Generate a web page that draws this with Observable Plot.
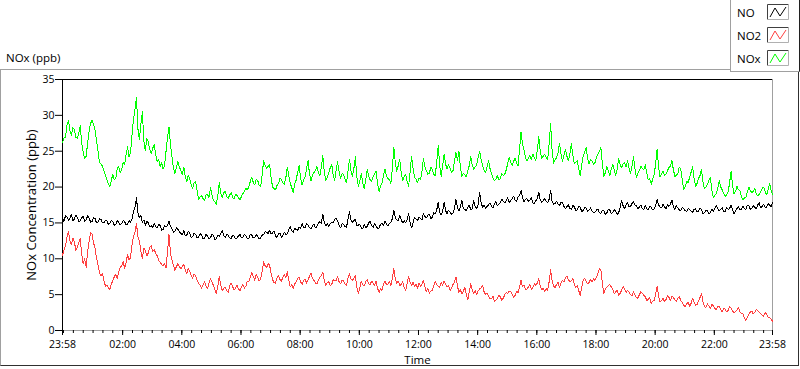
<!DOCTYPE html>
<html><head><meta charset="utf-8">
<script src="https://cdn.jsdelivr.net/npm/d3@7"></script>
<script src="https://cdn.jsdelivr.net/npm/@observablehq/plot@0.6"></script>
<style>
html,body{margin:0;padding:0;background:#fff;}
#wrap{position:relative;width:800px;height:369px;overflow:hidden;font-family:"Open Sans",sans-serif;font-size:11.5px;color:#000;}
#frame{position:absolute;left:0;top:69px;width:797px;height:295px;border-top:1px solid #a0a0a0;border-left:1px solid #a0a0a0;border-right:1px solid #303030;border-bottom:1px solid #303030;}
#chart{position:absolute;left:0;top:0;}
#title{position:absolute;left:6px;top:50px;line-height:16px;}
#legend{position:absolute;left:730px;top:0;width:68px;height:71px;background:#fff;border-left:1px solid #a0a0a0;border-bottom:1px solid #a0a0a0;border-right:1px solid #202020;}
.item{position:absolute;left:6px;height:16px;line-height:16px;}
.sw{position:absolute;left:36px;}
</style></head>
<body>
<div id="wrap">
  <div id="frame"></div>
  <div id="chart"></div>
  <div id="title">NOx (ppb)</div>
  <div id="legend"></div>
</div>
<script>
// ---- data (3-minute samples from 23:58 to 23:58 next day, one row per hour) ----
const seriesNames = ["NO", "NO2", "NOx"];
const seriesColors = ["#000000", "#ff4040", "#00ff00"];
const yTicks = [0, 5, 10, 15, 20, 25, 30, 35];
const tickHours = [2, 4, 6, 8, 10, 12, 14, 16, 18, 20, 22];
const stepMinutes = 3;

const NO = [
15.6,15.2,16.0,15.9,15.4,15.6,16.2,15.3,15.5,16.1,15.8,15.2,15.3,15.7,15.9,15.2,15.4,16.0,15.7,15.1,
15.2,15.7,15.6,15.0,15.1,15.6,15.5,15.0,15.0,15.4,15.3,14.8,14.9,15.4,15.2,14.7,14.8,15.3,15.1,14.7,
14.9,15.3,15.2,14.7,14.8,15.3,15.1,15.6,16.6,17.2,18.5,16.4,15.7,16.0,15.1,15.4,14.7,15.2,15.0,14.5,
14.6,14.4,14.9,14.5,14.3,14.8,14.6,14.0,14.1,14.6,14.4,14.7,15.3,14.5,14.2,13.7,13.8,14.3,14.1,13.8,
13.5,13.4,13.9,13.2,13.3,13.8,13.6,13.0,13.1,13.6,13.4,12.9,13.0,13.5,13.3,12.8,12.9,13.4,13.2,12.8,
12.9,13.4,13.3,12.7,12.8,13.3,13.1,13.5,13.9,13.2,13.0,13.4,13.3,12.9,12.8,13.3,13.2,12.8,12.9,13.2,
13.4,12.9,13.0,13.4,13.2,12.8,12.9,13.4,13.3,12.9,13.0,13.4,13.1,12.8,12.9,13.3,13.4,13.8,13.7,13.5,
14.0,13.5,13.6,13.9,13.2,13.0,13.5,13.6,13.0,13.3,13.7,13.4,13.5,14.1,14.5,13.9,13.7,14.2,14.1,14.0,
14.4,14.2,14.9,14.4,14.3,14.9,14.7,14.3,14.2,14.6,14.8,14.3,14.5,15.0,15.2,14.9,16.2,15.1,14.6,14.9,
14.5,14.9,15.1,15.0,15.5,15.6,15.3,14.7,14.3,14.9,14.8,14.5,14.4,15.5,16.6,15.4,15.1,15.3,15.5,14.6,
14.7,14.8,14.3,14.2,14.8,14.3,14.5,15.0,15.2,14.6,14.4,14.9,14.6,14.2,14.3,14.8,14.9,14.6,15.3,14.8,
14.6,14.9,15.1,15.6,16.8,15.7,15.4,15.3,16.0,15.4,15.0,15.3,15.0,15.5,16.3,15.1,14.3,15.0,15.8,15.5,
15.3,15.8,15.6,15.4,16.3,15.9,15.7,16.1,16.2,15.6,15.8,16.4,16.3,16.8,17.9,16.5,16.1,16.6,17.9,16.7,
16.3,16.8,16.5,16.2,16.4,17.0,18.3,17.1,16.7,17.2,18.1,17.0,16.9,16.7,17.2,17.5,16.8,17.0,18.1,17.3,
17.0,17.6,19.3,17.8,17.2,17.5,17.0,17.3,17.5,17.8,17.3,17.1,17.7,18.0,17.4,17.6,17.8,18.3,18.0,17.8,
18.1,18.5,17.9,18.1,18.4,18.7,18.2,18.0,18.6,18.9,19.5,18.5,18.0,18.3,18.4,18.0,18.2,18.5,17.8,17.7,
18.1,18.4,19.3,18.2,17.9,18.1,18.4,18.0,17.8,18.3,19.5,18.0,17.6,17.7,18.0,17.6,17.4,17.9,17.8,17.3,
17.0,17.3,17.5,17.0,16.9,17.4,17.3,16.7,16.8,17.3,17.2,16.6,16.7,17.2,17.1,16.6,16.8,17.1,16.7,16.4,
16.5,16.8,16.9,16.4,16.3,16.8,16.7,16.2,16.4,16.9,16.8,16.3,16.5,16.9,16.6,16.2,16.4,17.2,18.1,17.4,
17.0,17.5,17.8,17.2,17.3,17.7,18.0,17.5,17.4,17.0,17.2,17.5,17.0,16.9,17.4,17.0,16.8,17.3,17.2,16.8,
17.0,17.4,18.3,17.5,17.2,17.1,17.6,17.2,17.0,17.5,17.3,17.6,18.2,17.3,16.9,17.4,17.1,16.8,16.7,17.2,
17.0,16.7,16.6,17.0,16.9,16.6,16.5,16.9,17.0,16.5,16.6,17.1,16.8,16.3,16.4,16.8,16.7,16.3,16.4,16.9,
16.6,17.0,17.5,17.0,16.7,16.9,17.1,16.6,16.6,17.2,16.9,17.0,17.5,16.8,16.3,16.7,17.0,17.3,16.8,16.9,
17.3,17.0,16.9,17.5,17.4,16.9,17.0,17.4,17.2,17.0,17.5,17.8,17.1,17.3,17.6,17.2,17.2,17.7,17.5,17.3,
17.8];

const NO2 = [
10.5,11.2,11.8,13.0,13.8,12.5,12.0,12.9,12.4,11.2,11.6,12.2,12.8,10.6,9.3,10.0,8.8,11.0,12.4,13.7,
13.4,12.2,11.5,10.1,9.2,8.0,7.6,7.9,7.0,6.2,6.3,6.0,5.7,6.5,6.9,7.5,7.8,7.2,8.2,8.8,
9.0,9.6,8.7,9.5,10.6,9.8,10.2,11.9,13.2,13.7,14.9,13.1,12.5,11.0,10.1,11.5,11.2,10.4,10.8,11.6,
11.8,11.0,11.3,10.8,10.4,9.8,9.5,9.2,9.0,9.4,8.7,11.0,13.4,10.8,9.8,9.1,8.4,8.9,9.3,8.9,
8.6,8.9,9.2,8.4,7.9,8.6,8.3,7.7,7.3,7.9,7.6,7.0,6.6,6.3,5.9,6.4,6.8,6.2,5.8,6.6,
7.2,6.8,6.3,5.7,5.1,6.2,7.6,6.3,5.5,5.9,6.0,5.6,5.3,6.2,6.6,6.1,5.7,5.9,6.3,5.8,
5.5,6.1,6.4,5.9,6.2,6.9,6.8,7.5,8.1,7.5,7.0,7.8,7.4,6.9,7.2,8.3,9.6,9.0,8.8,9.3,
9.1,8.0,7.1,6.7,6.6,7.3,7.6,7.1,6.9,7.4,7.8,7.4,8.2,7.0,6.1,6.4,5.8,6.5,6.8,7.3,
7.4,6.8,6.4,7.0,7.2,6.6,7.0,7.6,8.0,7.3,7.0,6.6,6.5,7.1,7.4,7.7,8.1,6.9,6.3,6.7,
6.8,6.2,6.4,7.1,6.9,7.0,7.5,6.8,6.5,7.0,6.9,6.5,6.3,7.3,7.9,7.2,7.0,7.3,7.6,6.0,
5.2,6.0,6.9,6.4,6.2,6.8,7.1,6.5,6.4,6.9,6.6,6.3,6.9,5.9,5.3,5.9,5.6,6.4,6.9,6.4,
6.5,6.9,6.2,7.2,8.6,7.1,6.6,6.9,6.3,6.4,6.8,6.0,5.6,6.6,7.5,6.7,6.3,6.7,6.1,6.4,
5.9,6.6,6.2,6.4,7.0,6.1,5.4,5.9,5.2,5.5,5.6,6.3,6.9,6.4,6.2,6.0,6.7,6.3,6.9,6.5,
6.1,6.3,5.6,5.9,6.4,6.8,7.5,6.2,5.3,5.7,5.1,5.5,6.0,5.1,4.3,5.4,6.5,5.6,5.2,5.6,
5.0,5.5,5.8,5.9,6.3,5.4,5.0,5.2,4.8,4.4,4.4,4.8,4.0,4.2,4.5,4.9,4.7,4.2,4.5,5.0,
5.3,5.1,5.5,5.5,5.0,4.6,4.9,5.5,5.3,6.0,7.0,6.1,6.3,5.7,5.8,6.1,6.4,5.7,6.0,6.5,
6.3,6.6,7.2,6.2,5.7,5.9,5.4,5.9,5.6,6.8,8.5,6.9,6.2,6.0,6.4,6.7,6.0,6.6,7.0,6.8,
7.3,7.6,7.1,6.8,6.9,7.2,6.5,6.0,6.3,5.6,4.8,6.0,7.0,7.3,6.9,6.5,6.7,7.1,6.8,7.2,
7.0,7.4,8.0,8.6,8.4,6.5,5.2,5.8,6.0,6.3,6.4,6.1,5.8,5.1,5.4,5.6,4.9,5.2,5.6,6.1,
5.8,5.3,5.6,5.4,5.0,4.8,5.4,5.0,4.6,4.5,5.0,5.4,5.2,4.9,4.7,4.2,4.3,4.6,3.8,4.1,
4.2,5.0,6.2,4.8,4.0,4.2,4.5,4.0,4.3,4.9,4.6,4.2,4.8,4.6,4.3,4.0,4.5,4.7,4.2,3.9,
3.5,3.3,3.7,3.9,3.4,3.8,4.5,3.9,3.5,3.6,4.1,4.6,5.2,4.0,3.3,3.2,3.7,3.4,3.1,3.6,
3.5,3.1,2.9,3.4,3.3,2.9,2.6,3.1,3.0,2.6,2.8,3.3,3.1,2.7,2.5,2.6,2.9,3.2,2.6,2.4,
2.3,1.8,1.4,1.9,2.2,2.6,2.7,2.3,2.5,2.9,2.8,2.5,2.4,2.1,2.0,2.5,2.3,1.9,1.8,1.6,
1.3];

const NOx = [
26.2,26.8,27.0,28.6,29.3,27.9,27.2,28.3,28.0,26.9,26.8,27.5,28.6,26.1,24.8,24.0,24.3,26.2,27.8,28.9,
29.3,28.7,27.9,26.6,25.0,23.4,23.2,22.9,22.3,21.7,21.0,20.4,20.1,20.9,21.8,21.0,21.2,22.6,22.9,22.0,
22.4,23.4,23.1,24.5,25.6,24.2,24.8,27.3,29.5,30.8,32.5,28.1,26.6,28.8,30.5,26.4,25.1,26.8,26.3,25.2,
24.7,25.4,26.0,24.5,23.6,23.8,22.9,23.4,22.5,23.0,25.0,26.9,28.4,26.0,24.2,22.6,21.9,22.8,23.6,22.8,
22.3,21.7,22.8,21.5,20.7,21.6,21.2,20.3,19.8,20.6,20.8,19.5,18.2,18.6,18.8,18.4,18.1,18.9,19.0,18.5,
19.9,19.0,18.2,17.9,17.6,18.8,20.6,19.1,18.5,19.2,19.4,18.7,18.4,18.9,19.2,18.6,18.3,19.0,18.8,18.5,
18.2,18.7,19.1,19.4,19.8,19.6,20.1,20.8,21.4,20.6,20.3,21.1,20.9,20.2,20.1,21.8,23.7,23.0,22.6,22.9,
23.2,21.4,20.0,19.8,19.6,20.2,20.5,21.2,21.1,20.6,20.4,21.3,22.8,21.5,20.5,19.9,19.2,20.4,21.0,22.1,
23.0,21.2,20.3,21.0,21.4,22.6,23.7,21.8,20.9,21.7,22.0,22.3,22.9,22.0,21.6,22.8,24.4,22.0,20.9,21.3,
22.0,22.7,23.2,21.6,20.9,22.4,23.5,22.1,21.2,21.9,21.8,21.1,20.6,22.2,23.9,22.3,21.5,22.6,24.2,21.4,
20.1,20.8,21.9,20.6,19.8,21.0,22.5,21.5,21.0,20.8,21.4,21.8,22.2,20.5,19.4,20.2,20.6,21.6,22.5,21.6,
21.2,21.0,20.5,22.6,25.6,23.4,22.2,23.0,23.9,22.0,20.9,21.5,21.8,20.8,20.1,22.1,24.3,22.6,21.4,21.1,
20.6,21.3,21.0,22.2,24.0,22.8,22.3,21.8,21.9,22.8,22.4,21.8,21.6,23.5,25.8,23.0,21.5,23.0,24.6,23.2,
22.5,23.1,22.6,22.0,22.3,23.6,24.8,23.7,25.0,22.8,21.5,21.9,21.7,21.4,22.2,23.0,24.2,23.1,22.5,22.8,
23.1,24.1,25.0,23.8,23.0,22.4,22.0,22.8,23.7,22.6,21.9,21.3,20.9,21.1,21.6,21.0,21.2,21.9,21.6,21.8,
22.4,23.3,24.2,23.4,23.0,23.6,24.0,23.3,22.9,25.3,27.7,26.0,25.2,24.1,23.6,24.0,24.4,23.8,24.6,24.0,
23.7,25.2,27.0,25.0,24.0,24.3,24.6,24.1,23.8,26.0,28.8,25.1,23.3,23.8,24.1,24.8,26.1,24.6,23.6,24.4,
25.2,24.3,23.7,24.6,26.1,24.5,23.3,23.5,23.7,22.6,21.6,23.0,24.4,24.8,25.5,24.0,23.2,23.8,23.6,23.2,
23.4,24.1,24.6,25.0,25.5,23.2,21.5,22.0,22.9,22.2,21.6,22.5,23.2,22.4,21.6,22.5,24.0,23.1,22.7,23.2,
23.4,22.8,23.7,22.6,21.9,22.9,24.2,22.6,21.4,21.9,22.3,22.9,22.6,22.4,23.1,22.0,21.0,21.2,20.4,21.1,
21.8,23.2,25.3,22.8,21.4,21.9,22.2,21.6,21.8,22.3,22.7,22.9,23.7,22.4,21.5,21.6,21.9,22.8,22.5,21.0,
19.7,20.1,20.8,20.6,21.4,22.1,22.8,21.2,20.1,20.5,21.2,21.6,22.5,20.7,19.8,20.0,20.4,20.9,21.4,19.6,
18.5,18.9,19.1,19.9,20.9,20.0,19.6,19.1,18.7,18.9,19.3,20.6,22.2,20.3,19.0,19.4,20.1,19.6,19.5,18.7,
18.2,18.5,18.6,19.3,20.0,19.5,19.2,19.4,19.8,19.1,18.8,19.0,19.4,19.8,20.0,19.4,18.9,19.6,20.5,19.6,
19.0];

// ---- build ----
const start = new Date(Date.UTC(2020, 0, 1, 23, 58));
const end = new Date(start.getTime() + 24 * 3600 * 1000);
const timeAt = i => new Date(start.getTime() + i * stepMinutes * 60000);
const seriesValues = [NO, NO2, NOx];
const rows = [];
seriesNames.forEach((name, s) => seriesValues[s].forEach((v, i) => rows.push({series: name, time: timeAt(i), value: v})));

const majorTicks = [start, ...tickHours.map(h => new Date(Date.UTC(2020, 0, 2, h, 0))), end];
const minorTicks = d3.utcMinute.every(20).range(start, end);
const fmt = d3.utcFormat("%H:%M");

const chart = Plot.plot({
  width: 800, height: 369,
  marginLeft: 62, marginRight: 28, marginTop: 79, marginBottom: 39,
  style: {fontFamily: '"Open Sans", sans-serif', fontSize: "11.5px", color: "#000", background: "transparent"},
  x: {type: "utc", domain: [start, end], label: null},
  y: {domain: [0, 35], label: null},
  color: {domain: seriesNames, range: seriesColors},
  marks: [
    Plot.ruleY([0], {stroke: "#a0a0a0"}),
    Plot.ruleX([end], {stroke: "#a0a0a0"}),
    Plot.ruleY([35], {stroke: "#000"}),
    Plot.ruleX([start], {stroke: "#000"}),
    Plot.axisY({ticks: yTicks, tickSize: 7, tickPadding: 1, label: null, fontSize: 10.5}),
    Plot.axisX({ticks: minorTicks, tickSize: 3, tickFormat: () => "", label: null}),
    Plot.axisX({ticks: majorTicks, tickSize: 5, tickPadding: 5, tickFormat: fmt, label: null, fontSize: 10.5}),
    Plot.line(rows, {x: "time", y: "value", z: "series", stroke: "series", strokeWidth: 1, shapeRendering: "crispEdges"}),
    Plot.text(["NOx Concentration (ppb)"], {frameAnchor: "left", rotate: -90, dx: -31, textAnchor: "middle", lineAnchor: "middle", fill: "#000", fontSize: 13}),
    Plot.text(["Time"], {frameAnchor: "bottom", dy: 30, textAnchor: "middle", lineAnchor: "middle", fill: "#000"})
  ]
});
document.getElementById("chart").appendChild(chart);

// legend
const legend = document.getElementById("legend");
seriesNames.forEach((name, i) => {
  const top = 5 + i * 23;
  const item = document.createElement("div");
  item.className = "item";
  item.style.top = top + "px";
  item.textContent = name;
  legend.appendChild(item);
  const ns = "http://www.w3.org/2000/svg";
  const sw = document.createElementNS(ns, "svg");
  sw.setAttribute("class", "sw");
  sw.setAttribute("width", 22); sw.setAttribute("height", 16);
  sw.style.top = (top - 1) + "px";
  sw.innerHTML = `<path d="M0.5,15.5V0.5H21.5" fill="none" stroke="#404040"/>
    <path d="M0.5,15.5H21.5V0.5" fill="none" stroke="#b0b0b0"/>
    <polyline points="3,13 8,4 13,12 19,3" fill="none" stroke="${seriesColors[i]}"/>`;
  legend.appendChild(sw);
});
</script>
</body></html>
